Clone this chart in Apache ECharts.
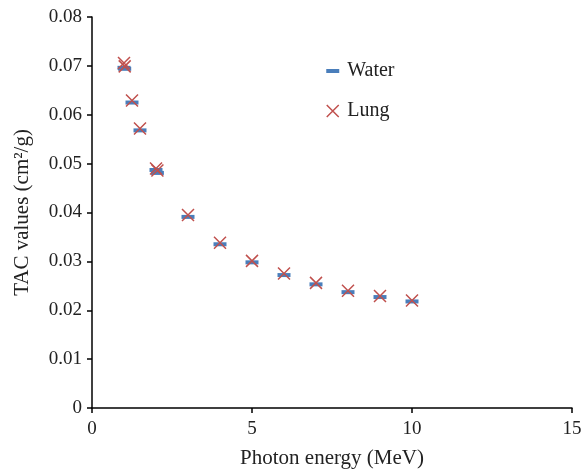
<!DOCTYPE html>
<html>
<head>
<meta charset="utf-8">
<script src="https://cdn.jsdelivr.net/npm/echarts@6/dist/echarts.min.js"></script>
<style>
  html, body { margin: 0; padding: 0; background: #fff; }
  #chart { width: 581px; height: 472px; }
</style>
</head>
<body>
<div id="chart"></div>
<script>
// photon energy (MeV)
var energy = [1, 1.022, 1.25, 1.5, 2, 2.044, 3, 4, 5, 6, 7, 8, 9, 10];
// TAC values (cm2/g)
var water = [0.0696, 0.0694, 0.0625, 0.0568, 0.0487, 0.0481, 0.0391, 0.0335, 0.0298, 0.0272, 0.0253, 0.0237, 0.0227, 0.0218];
var lung = [0.0706, 0.0699, 0.0629, 0.0572, 0.0490, 0.0486, 0.0395, 0.0338, 0.0301, 0.0275, 0.0256, 0.0240, 0.0229, 0.0220];

var font = 'Liberation Serif';

function pairs(xs, ys) {
    var out = [];
    for (var i = 0; i < xs.length; i++) {
        out.push([xs[i], ys[i]]);
    }
    return out;
}

var chart = echarts.init(document.getElementById('chart'));
var option = {
    animation: false,
    textStyle: { fontFamily: font },
    grid: {
        left: 92,
        right: 9,
        top: 17,
        bottom: 64,
        containLabel: false,
        outerBoundsMode: 'none'
    },
    legend: {
        orient: 'vertical',
        left: 321,
        top: 56,
        itemGap: 20,
        itemWidth: 13,
        itemHeight: 12,
        textStyle: { fontFamily: font, fontSize: 20, color: '#222', padding: [0, 0, 0, 3] },
        data: [
            { name: 'Water', icon: 'path://M0,5L13,5L13,9L0,9Z', itemStyle: { color: '#4a7ebb', borderWidth: 0, opacity: 1 } },
            { name: 'Lung', icon: 'path://M0,0L11,11M11,0L0,11', itemStyle: { color: 'rgba(0,0,0,0)', borderColor: '#c0504d', borderWidth: 1.5, opacity: 1 } }
        ]
    },
    xAxis: {
        type: 'value',
        min: 0,
        max: 15,
        interval: 5,
        name: 'Photon energy (MeV)',
        nameLocation: 'middle',
        nameGap: 40,
        nameTextStyle: { fontFamily: font, fontSize: 21, color: '#222' },
        axisLine: { lineStyle: { color: '#000', width: 1.5 } },
        axisTick: { show: true, length: 5, lineStyle: { color: '#000', width: 1.5 } },
        axisLabel: { fontFamily: font, fontSize: 19, color: '#222', margin: 12 },
        splitLine: { show: false }
    },
    yAxis: {
        type: 'value',
        min: 0,
        max: 0.08,
        interval: 0.01,
        name: 'TAC values (cm²/g)',
        nameLocation: 'middle',
        nameGap: 59,
        nameTextStyle: { fontFamily: font, fontSize: 21, color: '#222' },
        axisLine: { lineStyle: { color: '#000', width: 1.5 } },
        axisTick: { show: true, length: 5, lineStyle: { color: '#000', width: 1.5 } },
        axisLabel: {
            fontFamily: font,
            fontSize: 19,
            color: '#222',
            margin: 10,
            formatter: function (v) {
                return v === 0 ? '0' : v.toFixed(2);
            }
        },
        splitLine: { show: false }
    },
    series: [
        {
            name: 'Water',
            type: 'scatter',
            symbol: 'rect',
            symbolSize: [13, 4],
            itemStyle: { color: '#4a7ebb', opacity: 1 },
            data: pairs(energy, water)
        },
        {
            name: 'Lung',
            type: 'scatter',
            symbol: 'path://M0,0L12,12M12,0L0,12',
            symbolSize: 12,
            itemStyle: { color: 'rgba(0,0,0,0)', borderColor: '#c0504d', borderWidth: 1.5, opacity: 1 },
            data: pairs(energy, lung)
        }
    ]
};
chart.setOption(option);
window.addEventListener('resize', function () {
    chart.resize();
});
</script>
</body>
</html>
